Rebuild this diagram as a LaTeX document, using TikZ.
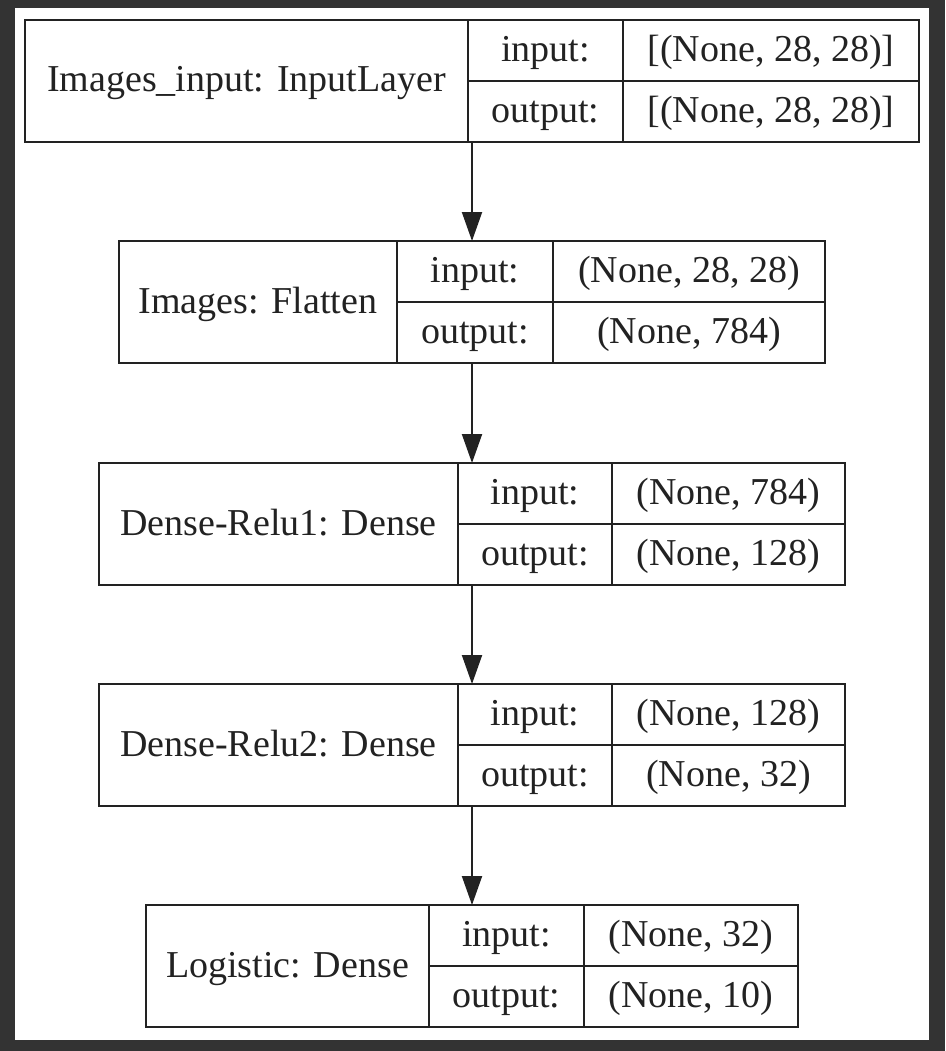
\documentclass[tikz,border=0pt]{standalone}
\usepackage{fontspec}
\setmainfont{Liberation Serif}
\usetikzlibrary{arrows.meta,fit}
\definecolor{frame}{HTML}{333333}
\definecolor{ink}{HTML}{222222}

\begin{document}
\begin{tikzpicture}[x=1pt,y=-1pt,
  cell/.style={draw=ink, line width=2pt, inner sep=0pt, outer sep=0pt, anchor=north west,
    text=ink, font=\fontsize{38pt}{40pt}\selectfont, text height=30pt, text depth=8pt,
    minimum height=61pt},
  namecell/.style={cell, minimum height=122pt},
  layerbox/.style={inner sep=0pt, outer sep=0pt},
  flow/.style={draw=ink, line width=2pt, -{Triangle[length=29pt,width=20pt]}}]
\useasboundingbox (0,0) rectangle (945,1051);
\fill [frame] (0,0) rectangle (945,1051);
\fill [white] (15,8) rectangle (929,1040);
% input layer
\node [namecell, minimum width=443pt] (inp) at (25,20) {Images\_input: InputLayer};
\node [cell, minimum width=155pt] (inpin) at (inp.north east) {input:};
\node [cell, minimum width=155pt] (inpout) at (inpin.south west) {output:};
\node [cell, minimum width=296pt] (inpinv) at (inpin.north east) {[(None, 28, 28)]};
\node [cell, minimum width=296pt] (inpoutv) at (inpout.north east) {[(None, 28, 28)]};
\node [layerbox, fit=(inp)(inpoutv)] (inpbox) {};
% flatten
\node [namecell, minimum width=278pt] (flat) at (119,241) {Images: Flatten};
\node [cell, minimum width=156pt] (flatin) at (flat.north east) {input:};
\node [cell, minimum width=156pt] (flatout) at (flatin.south west) {output:};
\node [cell, minimum width=272pt] (flatinv) at (flatin.north east) {(None, 28, 28)};
\node [cell, minimum width=272pt] (flatoutv) at (flatout.north east) {(None, 784)};
\node [layerbox, fit=(flat)(flatoutv)] (flatbox) {};
% dense 1
\node [namecell, minimum width=359pt] (relu1) at (99,463) {Dense-Relu1: Dense};
\node [cell, minimum width=154pt] (relu1in) at (relu1.north east) {input:};
\node [cell, minimum width=154pt] (relu1out) at (relu1in.south west) {output:};
\node [cell, minimum width=233pt] (relu1inv) at (relu1in.north east) {(None, 784)};
\node [cell, minimum width=233pt] (relu1outv) at (relu1out.north east) {(None, 128)};
\node [layerbox, fit=(relu1)(relu1outv)] (relu1box) {};
% dense 2
\node [namecell, minimum width=359pt] (relu2) at (99,684) {Dense-Relu2: Dense};
\node [cell, minimum width=154pt] (relu2in) at (relu2.north east) {input:};
\node [cell, minimum width=154pt] (relu2out) at (relu2in.south west) {output:};
\node [cell, minimum width=233pt] (relu2inv) at (relu2in.north east) {(None, 128)};
\node [cell, minimum width=233pt] (relu2outv) at (relu2out.north east) {(None, 32)};
\node [layerbox, fit=(relu2)(relu2outv)] (relu2box) {};
% logistic
\node [namecell, minimum width=283pt] (logit) at (146,905) {Logistic: Dense};
\node [cell, minimum width=155pt] (logitin) at (logit.north east) {input:};
\node [cell, minimum width=155pt] (logitout) at (logitin.south west) {output:};
\node [cell, minimum width=214pt] (logitinv) at (logitin.north east) {(None, 32)};
\node [cell, minimum width=214pt] (logitoutv) at (logitout.north east) {(None, 10)};
\node [layerbox, fit=(logit)(logitoutv)] (logitbox) {};
% connections
\draw [flow] (inpbox.south) -- (flatbox.north);
\draw [flow] (flatbox.south) -- (relu1box.north);
\draw [flow] (relu1box.south) -- (relu2box.north);
\draw [flow] (relu2box.south) -- (logitbox.north);
\end{tikzpicture}
\end{document}
